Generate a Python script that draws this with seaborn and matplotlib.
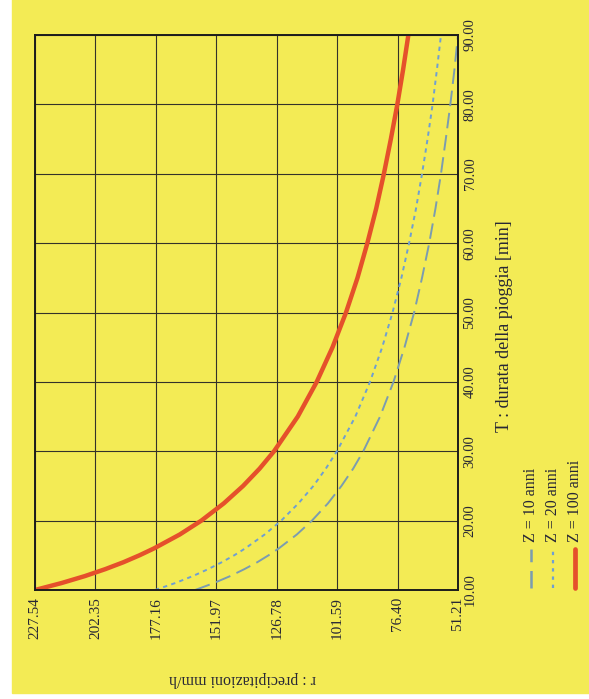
import matplotlib
matplotlib.use("Agg")
import matplotlib.pyplot as plt
from matplotlib.lines import Line2D
from matplotlib.patches import Rectangle
import pandas as pd
import seaborn as sns

# durata della pioggia [min] and intensity r [mm/h]
durata = [10, 11, 12, 13, 14, 15, 16, 18, 20, 22.5, 25, 27.5, 30, 35, 40,
          45, 50, 55, 60, 65, 70, 75, 80, 85, 90]
z10 = [160.8, 153.0, 146.2, 140.3, 134.9, 130.2, 125.9, 118.4, 112.1, 105.4,
       99.8, 94.9, 90.7, 83.7, 78.1, 73.5, 69.5, 66.2, 63.2, 60.6, 58.3, 56.3,
       54.4, 52.7, 51.21]
z20 = [177.5, 169.1, 161.8, 155.4, 149.7, 144.5, 139.9, 131.8, 124.9, 117.7,
       111.5, 106.3, 101.7, 94.0, 87.9, 82.8, 78.5, 74.8, 71.6, 68.7, 66.2,
       63.9, 61.8, 60.0, 58.3]
z100 = [227.54, 216.5, 206.8, 198.3, 190.7, 184.0, 177.9, 167.2, 158.2, 148.8,
        140.8, 133.9, 127.9, 118.0, 110.1, 103.5, 97.9, 93.1, 89.0, 85.3, 82.1,
        79.2, 76.5, 74.1, 71.9]

r_ticks = [227.54, 202.35, 177.16, 151.97, 126.78, 101.59, 76.40, 51.21]
t_ticks = [10, 20, 30, 40, 50, 60, 70, 80, 90]
legend_labels = ["Z = 10 anni", "Z = 20 anni", "Z = 100 anni"]

yellow = "#f3eb55"
ink = "#272735"
c10 = "#7b9cb0"
c20 = "#6f9fd2"
c100 = "#e5502b"

sns.set_style("ticks")
plt.rcParams["font.family"] = ["Liberation Serif", "DejaVu Serif"]

df = pd.DataFrame({"T": durata, "z10": z10, "z20": z20, "z100": z100})

fig = plt.figure(figsize=(5.89, 6.99), dpi=100)
fig.patch.set_facecolor("white")
fig.add_artist(Rectangle((12 / 589, 6 / 699), 1, 1, transform=fig.transFigure,
                         color=yellow, zorder=-10))

ax = fig.add_axes([35 / 589, 1 - 590 / 699, 423 / 589, 555 / 699])
ax.set_facecolor(yellow)

# page is rotated: r runs along the bottom (reversed), T along the right side
sns.lineplot(data=df, x="z10", y="T", sort=False, ax=ax, color=c10, lw=1.4,
             linestyle=(0, (8, 3.5)))
sns.lineplot(data=df, x="z20", y="T", sort=False, ax=ax, color=c20, lw=1.4,
             linestyle=(0, (2.2, 2.2)))
sns.lineplot(data=df, x="z100", y="T", sort=False, ax=ax, color=c100, lw=3.2,
             solid_joinstyle="round", solid_capstyle="round")

ax.set_xlim(r_ticks[0], r_ticks[-1])
ax.set_ylim(t_ticks[0], t_ticks[-1])
ax.set_xticks(r_ticks)
ax.set_xticklabels([f"{v:.2f}" for v in r_ticks])
ax.set_yticks(t_ticks)
ax.set_yticklabels([f"{v:.2f}" for v in t_ticks])
ax.yaxis.tick_right()
ax.grid(True, color="#33322a", lw=0.8)
for s in ax.spines.values():
    s.set_color("#1c1c1c")
    s.set_linewidth(1.4)

ax.tick_params(axis="x", length=0, pad=5, labelrotation=90, labelsize=11,
               labelcolor=ink)
ax.tick_params(axis="y", length=0, pad=4, labelrotation=90, labelsize=10.5,
               labelcolor=ink)
for lab in ax.get_yticklabels():
    lab.set_va("center")
    lab.set_ha("left")
ax.set_xlabel("")
ax.set_ylabel("")

ax.text(0.49, -0.16, "r : precipitazioni mm/h", transform=ax.transAxes,
        rotation=180, ha="center", va="center", fontsize=11.5, color=ink)
ax.text(1.111, 0.476, "T : durata della pioggia [min]", transform=ax.transAxes,
        rotation=90, ha="center", va="center", fontsize=13, color=ink)

# legend, drawn by hand because the page is turned
leg_x = [531, 553, 575]
leg_style = [dict(color=c10, lw=1.8, linestyle=(0, (7, 3.5))),
             dict(color=c20, lw=1.6, linestyle=(0, (1.5, 2.2))),
             dict(color=c100, lw=3.4, solid_capstyle="round")]
for xp, lab, st in zip(leg_x, legend_labels, leg_style):
    fx = xp / 589
    fig.add_artist(Line2D([fx, fx], [1 - 588 / 699, 1 - 549 / 699],
                          transform=fig.transFigure, **st))
    fig.text(fx, 1 - 542 / 699, lab, rotation=90, ha="center", va="bottom",
             fontsize=11.5, color=ink)

fig.savefig("out.png", dpi=100, facecolor=fig.get_facecolor())
